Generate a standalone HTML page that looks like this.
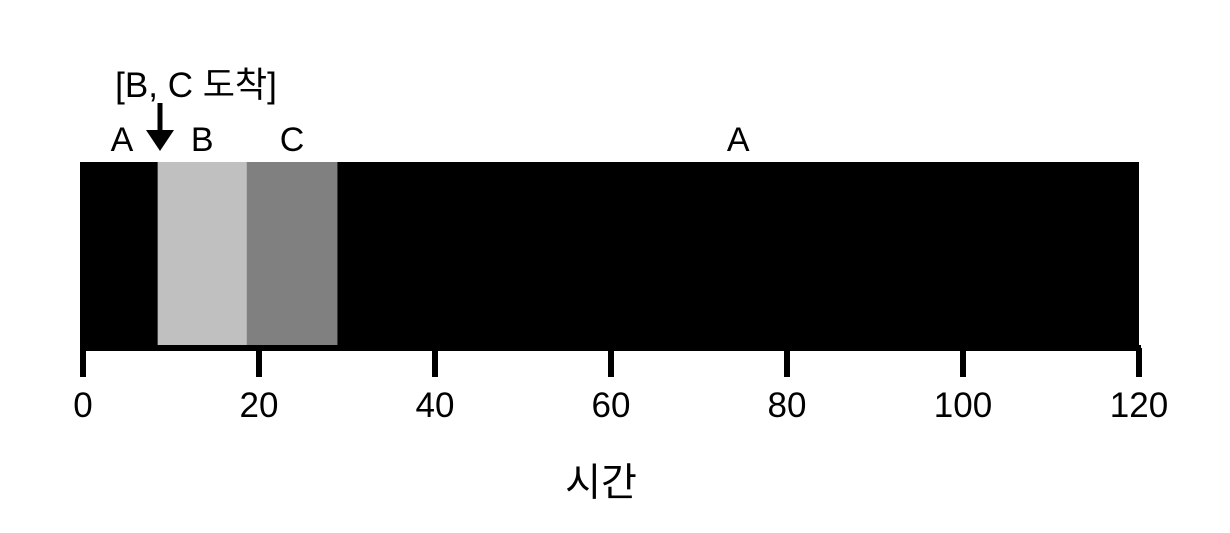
<!DOCTYPE html>
<html><head><meta charset="utf-8"><style>
body{margin:0;background:#fff}
text{font-family:"Liberation Sans","Noto Sans CJK KR",sans-serif;fill:#000}
</style></head><body>
<svg width="1230" height="528" viewBox="0 0 1230 528">
<g id="bars"></g>
<g id="axis"></g>
<text x="196" y="97" font-size="35" text-anchor="middle">[B, C 도착]</text>
<line x1="160" y1="103" x2="160" y2="132" stroke="#000" stroke-width="5"/>
<polygon points="146,130 174,130 160,151" fill="#000"/>
<text x="601" y="496" font-size="39" text-anchor="middle">시간</text>
</svg>
<script>
const segLabels=["A","B","C","A"];
const segStart=[0,8.5,18.6,28.9];
const segEnd=[8.5,18.6,28.9,120];
const segColors=["#000","#c0c0c0","#808080","#000"];
const ticks=[0,20,40,60,80,100,120];
const x=v=>83+v*8.8;
const NS="http://www.w3.org/2000/svg";
const bars=document.getElementById('bars'),axis=document.getElementById('axis');
segStart.forEach((s,i)=>{
  const r=document.createElementNS(NS,'rect');
  
  
  const x0=i===0?80:x(s);
  r.setAttribute('x',x0);r.setAttribute('y',162);
  r.setAttribute('width',x(segEnd[i])-x0);r.setAttribute('height',segColors[i]==="#000"?189:183);
  r.setAttribute('fill',segColors[i]);bars.appendChild(r);
  const t=document.createElementNS(NS,'text');
  
  
  let cx=(x(s)+x(segEnd[i]))/2; if(i===0) cx=122;
  t.setAttribute('x',cx);t.setAttribute('y',151);t.setAttribute('font-size','34');t.setAttribute('text-anchor','middle');
  t.textContent=segLabels[i];bars.appendChild(t);
});
const base=document.createElementNS(NS,'line');


base.setAttribute('x1',80);base.setAttribute('x2',1141);base.setAttribute('y1',348);base.setAttribute('y2',348);
base.setAttribute('stroke','#000');base.setAttribute('stroke-width',6);axis.appendChild(base);
ticks.forEach(v=>{
  const l=document.createElementNS(NS,'line');
  
  
  l.setAttribute('x1',x(v));l.setAttribute('x2',x(v));l.setAttribute('y1',348);l.setAttribute('y2',377);
  l.setAttribute('stroke','#000');l.setAttribute('stroke-width',6);axis.appendChild(l);
  const t=document.createElementNS(NS,'text');
  
  
  t.setAttribute('x',x(v));t.setAttribute('y',417);t.setAttribute('font-size','35');t.setAttribute('text-anchor','middle');
  t.textContent=v;axis.appendChild(t);
});
</script>
</body></html>
